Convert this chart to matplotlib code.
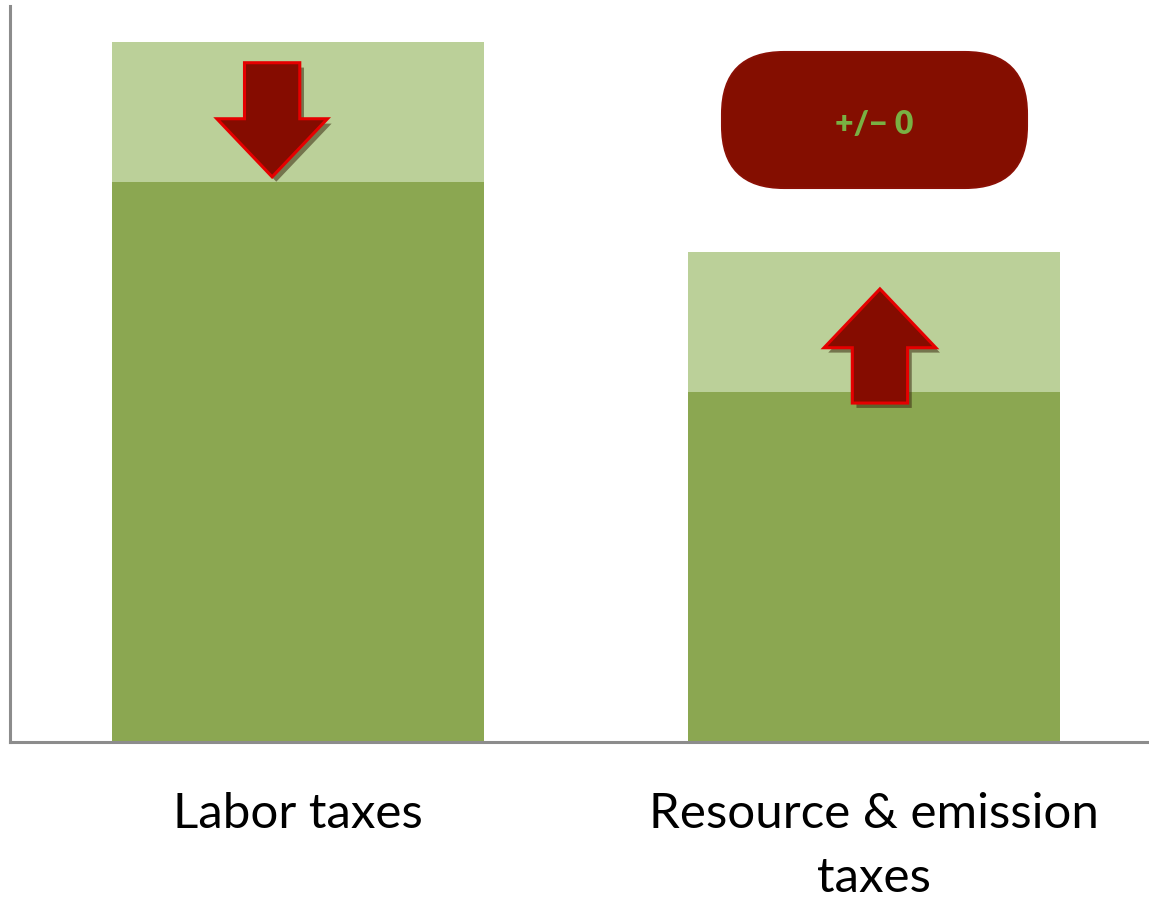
import matplotlib
matplotlib.use("Agg")
import matplotlib.pyplot as plt
from matplotlib.patches import Polygon, FancyBboxPatch
import matplotlib.patheffects as pe

categories = ["Labor taxes", "Resource & emission\ntaxes"]
base_values = [80, 50]
extra_values = [20, 20]
box_text = "+/\u2212 0"

dark_green = "#8BA751"
light_green = "#BBD099"
arrow_fill = "#850C00"
arrow_edge = "#E50000"

fig = plt.figure(figsize=(11.49, 8.98), dpi=100)
ax = fig.add_axes([10/1149, (898-742)/898, 1139/1149, 736/898])

x = list(range(len(categories)))
ax.bar(x, base_values, width=0.646, color=dark_green, zorder=2)
ax.bar(x, extra_values, bottom=base_values, width=0.646, color=light_green, zorder=2)

ax.set_xlim(-0.5, 1.477)
ax.set_ylim(0, 105.1)
ax.set_yticks([])
ax.set_xticks(x)
ax.set_xticklabels(categories, fontsize=35.5, family=["Lato", "DejaVu Sans"], linespacing=1.56)
ax.tick_params(axis="x", length=0, pad=36)
ax.spines["top"].set_visible(False)
ax.spines["right"].set_visible(False)
for s in ["left", "bottom"]:
    ax.spines[s].set_color("#8c8c8c")
    ax.spines[s].set_linewidth(2.2)

def arrow(cx, tip, head_base, tail, head_hw, shaft_hw):
    pts = [(cx, tip), (cx - head_hw, head_base), (cx - shaft_hw, head_base),
           (cx - shaft_hw, tail), (cx + shaft_hw, tail), (cx + shaft_hw, head_base),
           (cx + head_hw, head_base)]
    p = Polygon(pts, closed=True, facecolor=arrow_fill, edgecolor=arrow_edge,
                linewidth=2.2, joinstyle="miter", zorder=5)
    p.set_path_effects([pe.SimplePatchShadow(offset=(3, -3.5), shadow_rgbFace="#3a2a10", alpha=0.55),
                        pe.Normal()])
    ax.add_patch(p)

# down arrow in labor bar
arrow(-0.045, 80.7, 89.0, 97.0, 0.096, 0.048)
# up arrow in resource bar
arrow(1.010, 64.7, 56.3, 48.4, 0.097, 0.048)

# rounded box
box = FancyBboxPatch((7.22, (898-188)/100), 3.05, 1.36,
                     boxstyle="round,pad=0,rounding_size=0.62",
                     transform=fig.dpi_scale_trans, facecolor="#840E00",
                     edgecolor="#8a1005", linewidth=1.5, zorder=6)
fig.patches.append(box)
fig.text(874/1149, 1 - 125/898, box_text, ha="center", va="center",
         fontsize=23, fontweight="heavy", color="#79B043",
         family=["Lato", "DejaVu Sans"], zorder=7)

fig.savefig("out.png", dpi=100)
